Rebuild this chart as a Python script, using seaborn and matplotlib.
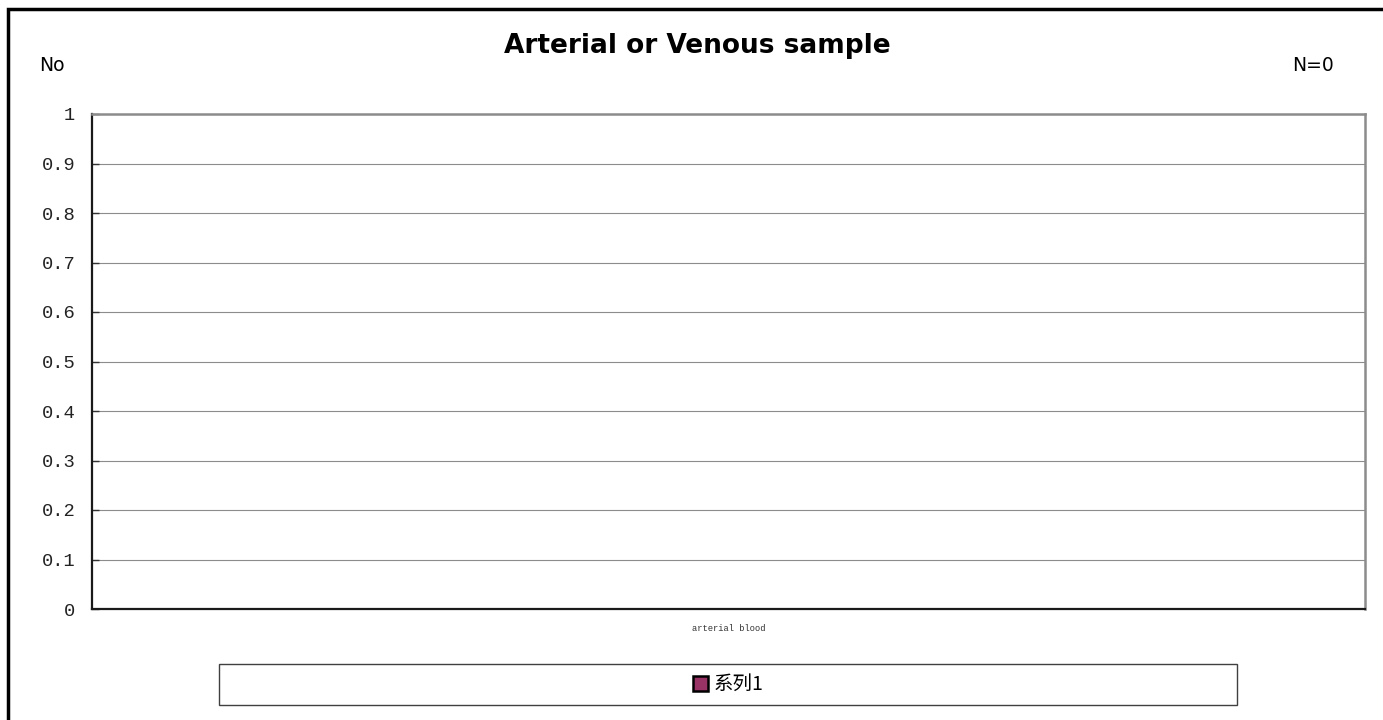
import matplotlib
matplotlib.use("Agg")
import matplotlib.pyplot as plt
from matplotlib.patches import Rectangle, Patch
import seaborn as sns
import pandas as pd

categories = ["arterial blood"]
values = [0]
series_name = "系列1"
y_ticks = [0, 0.1, 0.2, 0.3, 0.4, 0.5, 0.6, 0.7, 0.8, 0.9, 1]
y_tick_labels = ["0", "0.1", "0.2", "0.3", "0.4", "0.5", "0.6", "0.7", "0.8", "0.9", "1"]

sns.set_style("white")
plt.rcParams["font.family"] = ["DejaVu Sans", "Noto Sans CJK SC"]
plt.rcParams["text.color"] = "black"
plt.rcParams["xtick.color"] = "black"
plt.rcParams["ytick.color"] = "black"

W, H = 1383, 720
fig = plt.figure(figsize=(W / 100, H / 100), dpi=100)
fig.patch.set_facecolor("white")

# plot area
L, R, T, B = 92, 1365, 114, 609
ax = fig.add_axes([L / W, 1 - B / H, (R - L) / W, (B - T) / H])

df = pd.DataFrame({"category": categories, "value": values})
sns.barplot(data=df, x="category", y="value", color="#993366",
            edgecolor="black", linewidth=1, width=0.5, ax=ax)

ax.set_ylim(0, 1)
ax.set_yticks(y_ticks)
ax.set_yticklabels(y_tick_labels, family="Liberation Mono", fontsize=13.5,
                   color="#222222")
ax.set_xlabel("")
ax.set_ylabel("")
for lbl in ax.get_xticklabels():
    lbl.set_family("Liberation Mono")
    lbl.set_fontsize(6.3)
    lbl.set_color("#333333")
ax.tick_params(axis="x", length=0, pad=11)
ax.tick_params(axis="y", direction="in", length=5, width=1, color="#333333",
               pad=12, left=True)
ax.yaxis.grid(True, color="#8c8c8c", linewidth=0.8)
ax.set_axisbelow(True)
for side in ("left", "bottom"):
    ax.spines[side].set_color("#1a1a1a")
    ax.spines[side].set_linewidth(1.6)
for side in ("top", "right"):
    ax.spines[side].set_color("#8c8c8c")
    ax.spines[side].set_linewidth(1.8)

# titles and annotations
fig.text(697 / W, 1 - 53 / H, "Arterial or Venous sample", ha="center",
         va="baseline", fontsize=19, fontweight="bold", color="black")
fig.text(39 / W, 1 - 71 / H, "No", ha="left", va="baseline", fontsize=13.5,
         color="black")
fig.text(1334 / W, 1 - 71 / H, "N=0", ha="right", va="baseline", fontsize=13.5,
         color="black")

# outer chart frame
fig.patches.append(Rectangle((8 / W, -0.2), 1.5, 1.2 - 9 / H,
                             transform=fig.transFigure, fill=False,
                             edgecolor="black", linewidth=2.5))

# legend box
lx0, lx1, ly0, ly1 = 219, 1237, 664, 705
fig.patches.append(Rectangle((lx0 / W, 1 - ly1 / H), (lx1 - lx0) / W,
                             (ly1 - ly0) / H, transform=fig.transFigure,
                             fill=False, edgecolor="#404040", linewidth=1))
handle = Patch(facecolor="#993366", edgecolor="black", linewidth=1.8)
fig.legend([handle], [series_name], loc="center",
           bbox_to_anchor=((lx0 + lx1) / 2 / W, 1 - (ly0 + ly1) / 2 / H),
           frameon=False, handlelength=0.8, handleheight=0.8,
           handletextpad=0.25,
           prop={"family": ["Noto Sans CJK SC", "DejaVu Sans"], "size": 14})

fig.savefig("out.png", dpi=100, facecolor="white")
